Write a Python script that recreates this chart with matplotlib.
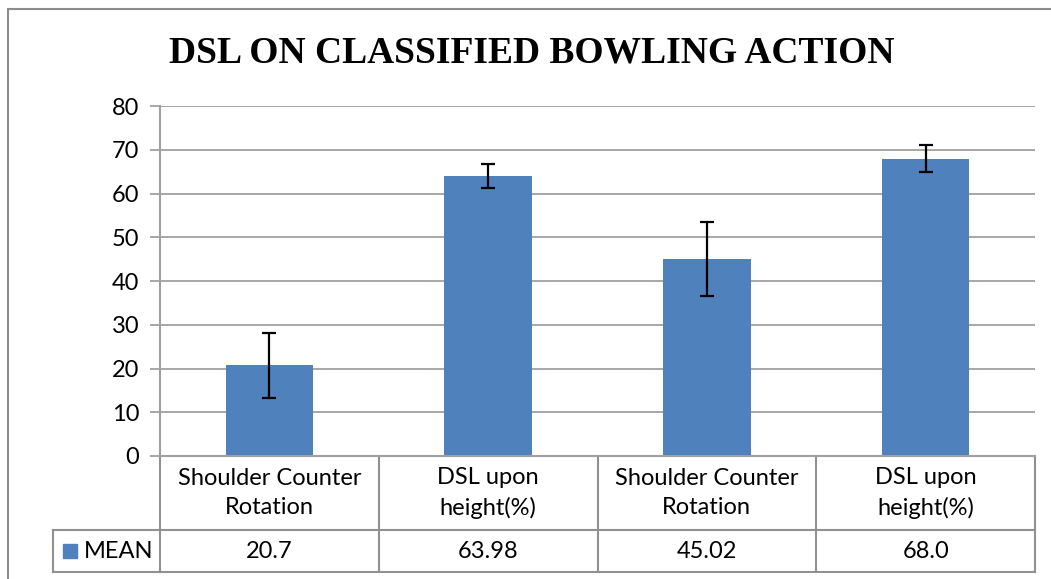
import numpy as np
import matplotlib
matplotlib.use('Agg')
import matplotlib.pyplot as plt
import matplotlib.transforms as mtransforms
from matplotlib.patches import Rectangle

categories = ['Shoulder Counter\nRotation', 'DSL upon\nheight(%)',
              'Shoulder Counter\nRotation', 'DSL upon\nheight(%)']
means = [20.7, 63.98, 45.02, 68.0]
mean_labels = ['20.7', '63.98', '45.02', '68.0']
errors = [7.35, 2.75, 8.5, 3.15]
series_name = 'MEAN'
title = 'DSL ON CLASSIFIED BOWLING ACTION'

bar_color = '#4F81BD'
grid_color = '#A0A0A0'
body_font = 'Lato'
fs = 17

W, H = 1051, 579
fig = plt.figure(figsize=(W / 100, H / 100), dpi=100)

def fx(px):
    return px / W

def fy(py):
    return 1 - py / H

# plot area in pixels
left, right, top, bottom = 160, 1035, 106, 456
ax = fig.add_axes([fx(left), fy(bottom), fx(right - left), (bottom - top) / H])

x = np.arange(len(categories))
ax.bar(x, means, width=0.4, color=bar_color, zorder=2)
ax.errorbar(x, means, yerr=errors, fmt='none', ecolor='black',
            elinewidth=1.6, capsize=5, capthick=1.6, zorder=3)

ax.set_xlim(-0.5, len(categories) - 0.5)
ax.set_ylim(0, 80)
ax.set_yticks(np.arange(0, 81, 10))
ax.set_xticks([])
ax.yaxis.grid(True, color=grid_color, linewidth=1.3)
ax.set_axisbelow(True)
for s in ['top', 'right']:
    ax.spines[s].set_visible(False)
for s in ['left', 'bottom']:
    ax.spines[s].set_color(grid_color)
    ax.spines[s].set_linewidth(1.5)
ax.tick_params(axis='y', length=7, width=1.3, color=grid_color, pad=8,
               labelsize=fs)
for lbl in ax.get_yticklabels():
    lbl.set_fontfamily(body_font)

fig.text(fx(532), fy(53), title, ha='center', va='center',
         fontfamily='Liberation Serif', fontweight='bold', fontsize=27)

# data table under the axis
tr = mtransforms.blended_transform_factory(ax.transData, fig.transFigure)
row1_bot, row2_bot = 530, 572
line_kw = dict(color='#909090', linewidth=1.5, clip_on=False)
bounds = np.arange(len(categories) + 1) - 0.5
for b in bounds:
    ax.plot([b, b], [fy(bottom), fy(row2_bot)], transform=tr, **line_kw)
ax.plot([-0.5, bounds[-1]], [fy(row1_bot), fy(row1_bot)], transform=tr, **line_kw)
ax.plot([-0.5, bounds[-1]], [fy(row2_bot), fy(row2_bot)], transform=tr, **line_kw)
fig.add_artist(plt.Line2D([fx(53), fx(left)], [fy(row1_bot), fy(row1_bot)],
                          color='#909090', linewidth=1.5))
fig.add_artist(plt.Line2D([fx(53), fx(left)], [fy(row2_bot), fy(row2_bot)],
                          color='#909090', linewidth=1.5))
fig.add_artist(plt.Line2D([fx(53), fx(53)], [fy(row1_bot), fy(row2_bot)],
                          color='#909090', linewidth=1.5))

for xi, cat, val in zip(x, categories, mean_labels):
    ax.text(xi, fy((bottom + row1_bot) / 2), cat, transform=tr, ha='center',
            va='center', fontsize=fs, fontfamily=body_font, linespacing=1.45)
    ax.text(xi, fy((row1_bot + row2_bot) / 2), val, transform=tr, ha='center',
            va='center', fontsize=fs, fontfamily=body_font)

fig.add_artist(Rectangle((fx(63), fy(558)), fx(14), 14 / H, color=bar_color))
fig.text(fx(84), fy(551), series_name, ha='left', va='center', fontsize=fs,
         fontfamily=body_font)

# outer chart frame
fig.add_artist(Rectangle((fx(8), fy(600)), fx(1100), 591 / H, fill=False,
                         edgecolor='#8C8C8C', linewidth=1.5))

fig.savefig('out.png', dpi=100)
